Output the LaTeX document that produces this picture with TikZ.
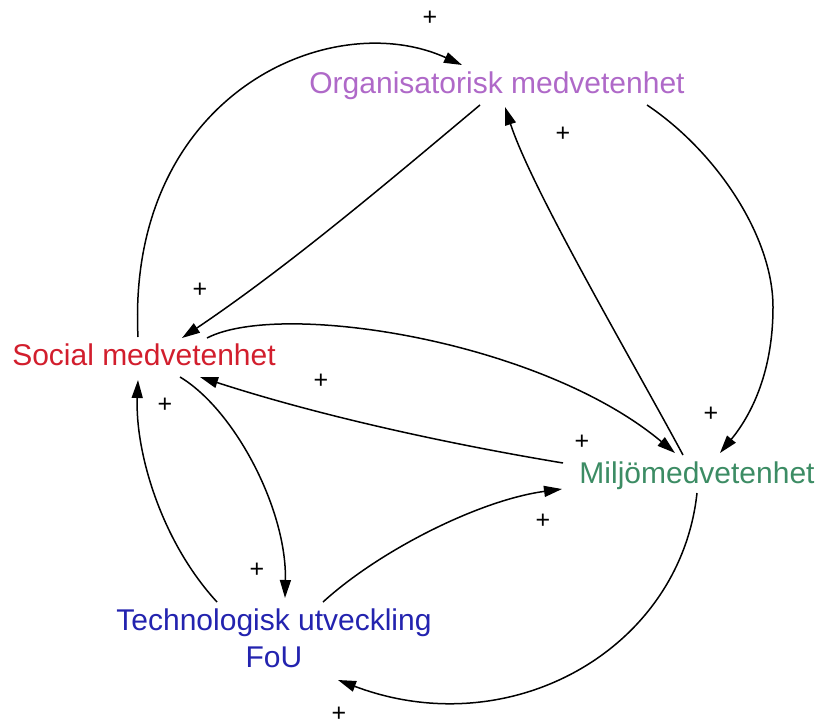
\documentclass[tikz,border=0pt]{standalone}
\usepackage{fontspec}
\setmainfont{Liberation Sans}
\usetikzlibrary{arrows.meta}
\definecolor{orgc}{RGB}{175,105,200}
\definecolor{socc}{RGB}{210,30,45}
\definecolor{milc}{RGB}{60,140,100}
\definecolor{techc}{RGB}{35,35,175}
\tikzset{
  lbl/.style={font=\fontsize{30}{37}\selectfont, inner sep=0pt, anchor=base},
  pl/.style={font=\fontsize{25}{30}\selectfont, inner sep=0pt},
  link/.style={line width=1.5pt, -{Triangle[length=18pt,width=11pt]}}
}
\begin{document}
\begin{tikzpicture}[x=1pt,y=-1pt]
\useasboundingbox (0,0) rectangle (817,726);
\node[lbl, text=orgc] (org) at (497,93) {Organisatorisk medvetenhet};
\node[lbl, text=socc] (soc) at (144,365) {Social medvetenhet};
\node[lbl, text=milc] (mil) at (697,483) {Miljömedvetenhet};
\node[lbl, text=techc, align=center] (tech) at (274,667) {Technologisk utveckling\\FoU};

% Social -> Organisatorisk
\draw[link] ([shift={(-6,-28)}]soc.base) .. controls (126,95) and (330,5) .. ([shift={(-35,-28)}]org.base);
\node[pl] (p1) at (430,18) {+};
% Organisatorisk -> Social
\draw[link] ([shift={(-17,12)}]org.base) .. controls (395,176) and (292,264) .. ([shift={(38,-27)}]soc.base);
\node[pl] (p2) at (200,290) {+};
% Miljo -> Organisatorisk
\draw[link] ([shift={(-14,-28)}]mil.base) .. controls (632,360) and (532,190) .. ([shift={(8,14)}]org.base);
\node[pl] (p3) at (563,134) {+};
% Organisatorisk -> Miljo
\draw[link] ([shift={(150,12)}]org.base) .. controls (717,152) and (773,237) .. (773,307) .. controls (773,377) and (748,419) .. ([shift={(23,-30)}]mil.base);
\node[pl] (p4) at (711,414) {+};
% Social -> Miljo
\draw[link] ([shift={(63,-27)}]soc.base) .. controls (280,300) and (540,340) .. ([shift={(-22,-30)}]mil.base);
\node[pl] (p5) at (582,442) {+};
% Miljo -> Social
\draw[link] ([shift={(-134,-20)}]mil.base) .. controls (443,443) and (317,415) .. ([shift={(56,12)}]soc.base);
\node[pl] (p6) at (321,381) {+};
% Social -> Tech
\draw[link] ([shift={(36,12)}]soc.base) .. controls (235,410) and (287,510) .. ([shift={(11,-69)}]tech.base);
\node[pl] (p7) at (257,570) {+};
% Tech -> Social
\draw[link] ([shift={(-57,-65)}]tech.base) .. controls (160,540) and (135,450) .. ([shift={(-6,15)}]soc.base);
\node[pl] (p8) at (165,405) {+};
% Tech -> Miljo
\draw[link] ([shift={(49,-65)}]tech.base) .. controls (380,550) and (480,500) .. ([shift={(-135,6)}]mil.base);
\node[pl] (p9) at (543,521) {+};
% Miljo -> Tech
\draw[link] ([shift={(0,10)}]mil.base) .. controls (680,650) and (510,745) .. ([shift={(64,13)}]tech.base);
\node[pl] (p10) at (339,714) {+};
\end{tikzpicture}
\end{document}
